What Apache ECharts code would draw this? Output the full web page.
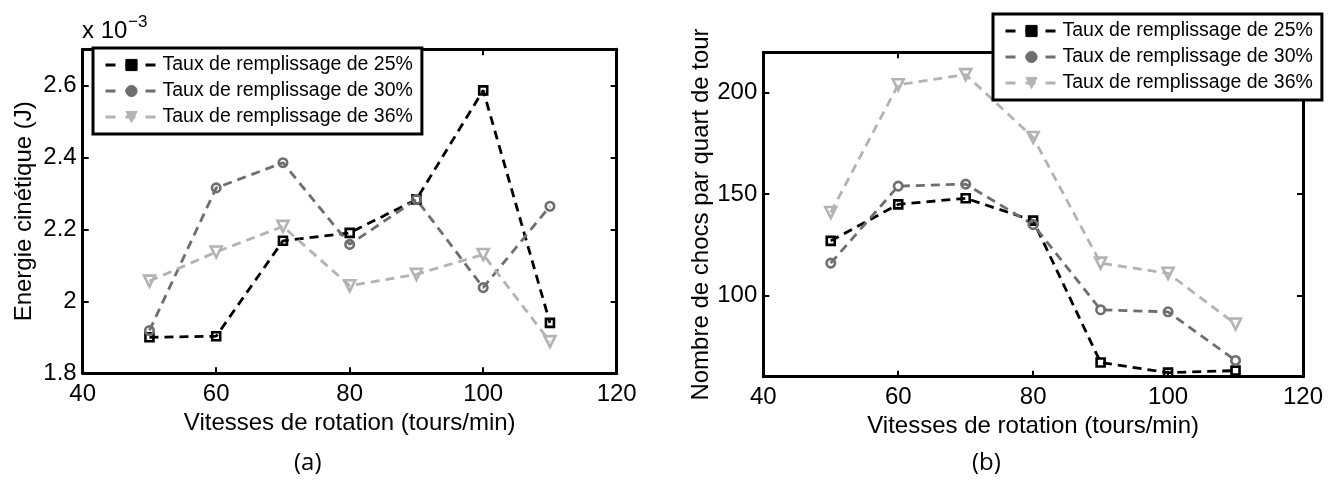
<!DOCTYPE html>
<html><head><meta charset="utf-8">
<script src="https://cdn.jsdelivr.net/npm/echarts@6/dist/echarts.min.js"></script>
<style>html,body{margin:0;padding:0;background:#fff}#c{width:1337px;height:484px}</style>
</head><body><div id="c"></div>
<script>
// ---- data ----
const speeds = [50, 60, 70, 80, 90, 100, 110];
const seriesNames = ['Taux de remplissage de 25%', 'Taux de remplissage de 30%', 'Taux de remplissage de 36%'];
const energy25 = [1.900, 1.903, 2.168, 2.190, 2.283, 2.586, 1.940];
const energy30 = [1.919, 2.315, 2.385, 2.158, 2.283, 2.038, 2.264];
const energy36 = [2.056, 2.137, 2.208, 2.043, 2.075, 2.130, 1.888];
const chocs25 = [127, 145, 148, 137, 67, 62, 63];
const chocs30 = [116, 154, 155, 135, 93, 92, 68];
const chocs36 = [141, 204, 209, 178, 116, 111, 86];
const xTicks = [40, 60, 80, 100, 120];
const energyTicks = [1.8, 2.0, 2.2, 2.4, 2.6];
const chocsTicks = [100, 150, 200];
const xTitle = 'Vitesses de rotation (tours/min)';
const yTitleA = 'Energie cinétique (J)';
const yTitleB = 'Nombre de chocs par quart de tour';

// ---- style ----
const FONT = 'Liberation Sans';
const colors = ['#000000', '#6e6e6e', '#b3b3b3'];
const symbols = ['rect', 'circle', 'triangle'];
const symRot = [0, 0, 180];
const symSize = [8, 8.5, 11];

function xAxes(g) {
  const base = {
    gridIndex: g, type: 'value', min: 40, max: 120, interval: 20,
    axisLine: {onZero: false, lineStyle: {color: '#000', width: 3}},
    axisTick: {inside: true, length: 6, customValues: xTicks, lineStyle: {color: '#000', width: 2}},
    splitLine: {show: false}
  };
  return [
    Object.assign({}, base, {
      position: 'bottom',
      axisLabel: {color: '#000', fontSize: 24, fontFamily: FONT, margin: 9, customValues: xTicks},
      name: xTitle, nameLocation: 'middle', nameGap: 37,
      nameTextStyle: {color: '#000', fontSize: 24, fontFamily: FONT}
    }),
    Object.assign({}, base, {position: 'top', axisLabel: {show: false}})
  ];
}
function yAxes(g, min, max, ticks, title, gap, fmt) {
  const base = {
    gridIndex: g, type: 'value', min: min, max: max,
    axisLine: {onZero: false, lineStyle: {color: '#000', width: 3}},
    axisTick: {inside: true, length: 6, customValues: ticks, lineStyle: {color: '#000', width: 2}},
    splitLine: {show: false}
  };
  return [
    Object.assign({}, base, {
      position: 'left',
      axisLabel: {color: '#000', fontSize: 24, fontFamily: FONT, margin: 6, customValues: ticks, formatter: fmt},
      name: title, nameLocation: 'middle', nameGap: gap, nameRotate: 90,
      nameTextStyle: {color: '#000', fontSize: 24, fontFamily: FONT}
    }),
    Object.assign({}, base, {position: 'right', axisLabel: {show: false}})
  ];
}
function mkSeries(i, vals, xi, yi) {
  return {
    type: 'line', name: seriesNames[i], xAxisIndex: xi, yAxisIndex: yi,
    data: speeds.map((x, k) => [x, vals[k]]),
    symbol: symbols[i], symbolSize: symSize[i], symbolRotate: symRot[i],
    showSymbol: true, showAllSymbol: true,
    lineStyle: {color: colors[i], width: 2.8, type: [9, 6]},
    itemStyle: {color: 'rgba(255,255,255,0)', borderColor: colors[i], borderWidth: 2.6},
    emphasis: {disabled: true}
  };
}
function mkLegend(left, top) {
  return {
    left: left, top: top, orient: 'vertical', padding: [7, 9, 7, 11],
    itemWidth: 52, itemHeight: 14, itemGap: 6,
    borderColor: '#000', borderWidth: 3, backgroundColor: '#fff',
    textStyle: {fontSize: 19.5, color: '#000', fontFamily: FONT},
    lineStyle: {type: [10, 10], width: 3},
    selectedMode: false, z: 10,
    data: seriesNames.map((n, i) => ({name: n, itemStyle: {color: colors[i], borderColor: colors[i], borderWidth: 1}}))
  };
}

const chart = echarts.init(document.getElementById('c'), null, {renderer: 'canvas'});
chart.setOption({
  animation: false,
  backgroundColor: '#fff',
  grid: [
    {left: 82.7, top: 49.3, width: 534, height: 324},
    {left: 763.3, top: 52.3, width: 539.7, height: 324.4}
  ],
  xAxis: [].concat(xAxes(0), xAxes(1)),
  yAxis: [].concat(
    yAxes(0, 1.8, 2.7, energyTicks, yTitleA, 46, v => String(+(+v).toFixed(1))),
    yAxes(1, 60, 220, chocsTicks, yTitleB, 50, v => String(v))
  ),
  legend: [mkLegend(93, 48), mkLegend(993, 14)],
  series: [
    mkSeries(0, energy25, 0, 0), mkSeries(1, energy30, 0, 0), mkSeries(2, energy36, 0, 0),
    mkSeries(0, chocs25, 2, 2), mkSeries(1, chocs30, 2, 2), mkSeries(2, chocs36, 2, 2)
  ],
  graphic: [
    {type: 'text', left: 82, top: 19, style: {text: 'x 10', fontSize: 24, fontFamily: FONT, fill: '#000'}},
    {type: 'text', left: 128, top: 14, style: {text: '\u22123', fontSize: 17, fontFamily: FONT, fill: '#000'}},
    {type: 'text', left: 294, top: 451, style: {text: '(a)', fontSize: 24, fontFamily: 'Open Sans', fill: '#000'}},
    {type: 'text', left: 972, top: 451, style: {text: '(b)', fontSize: 24, fontFamily: 'Open Sans', fill: '#000'}}
  ]
});
</script>
</body></html>
